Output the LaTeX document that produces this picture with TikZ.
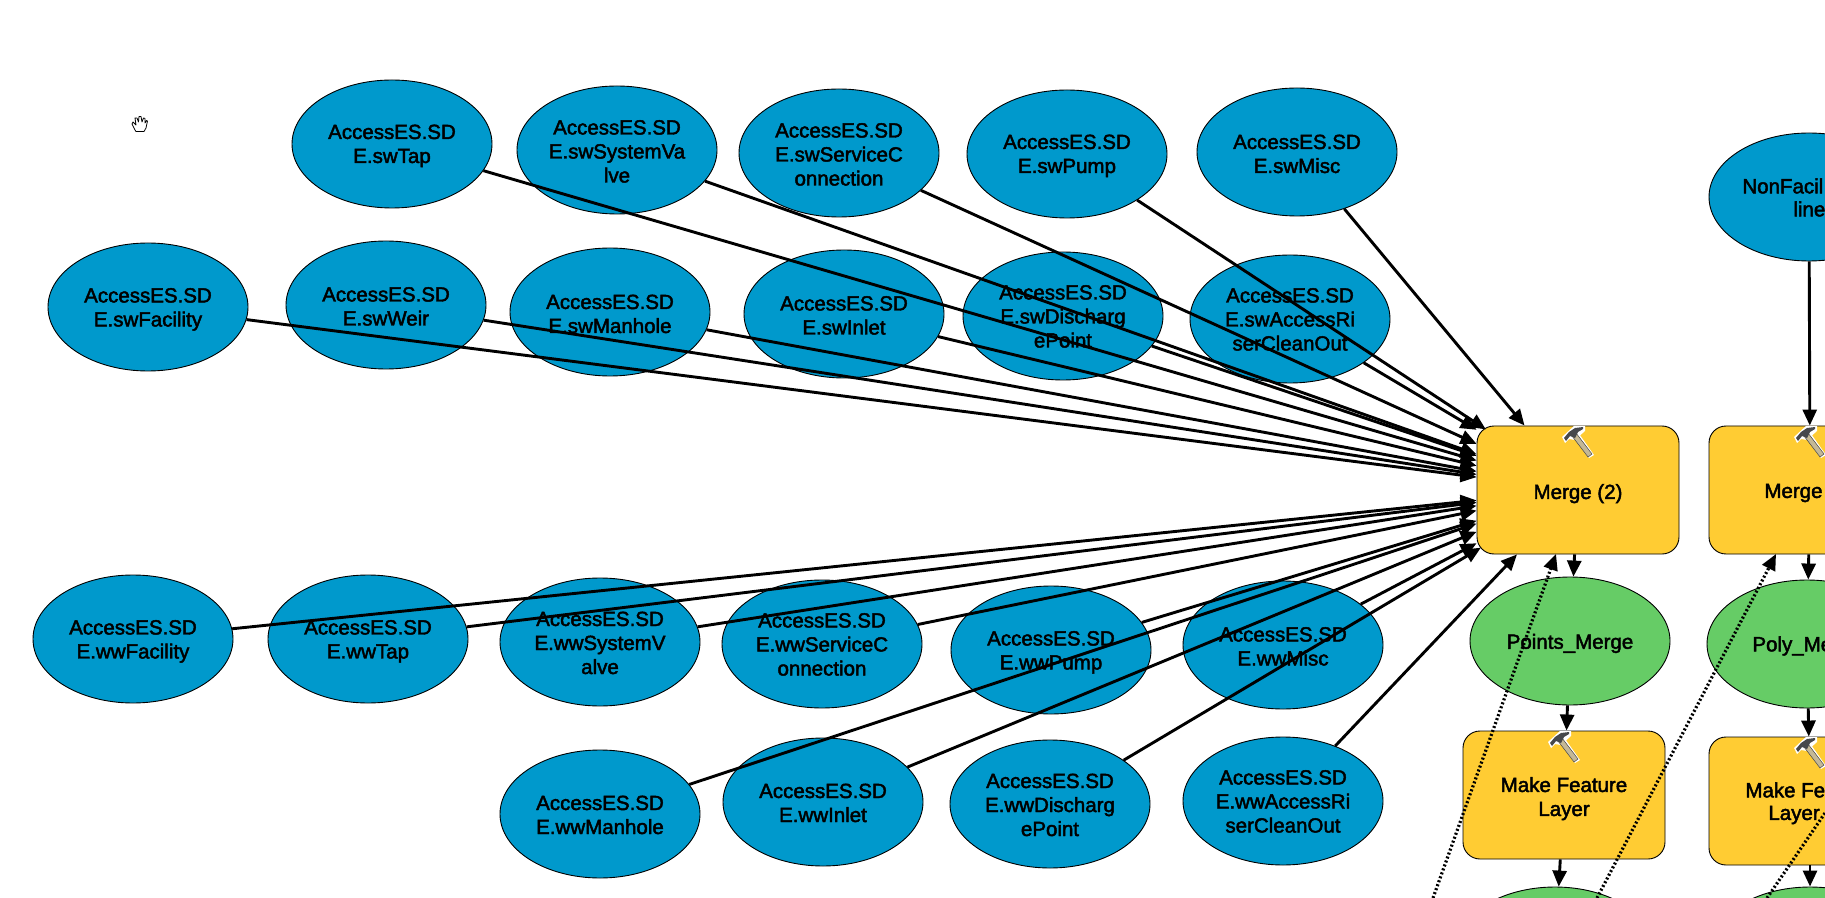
\documentclass[tikz,border=0pt]{standalone}
\usepackage{fontspec}
\usetikzlibrary{shapes.geometric,arrows.meta}
\newfontfamily\difont[FakeBold=2.2]{Liberation Sans}
\newcommand{\nudge}[1]{\rule{0pt}{\dimexpr7.6pt+#1pt\relax}}
\definecolor{srcblue}{RGB}{0,153,204}
\definecolor{toolorange}{RGB}{255,204,51}
\definecolor{outgreen}{RGB}{102,204,102}
\definecolor{handlecol}{RGB}{196,184,150}
\definecolor{headcol}{RGB}{70,72,76}
\tikzset{
  x=0.5pt,y=-0.5pt,
  every node/.style={font=\difont\fontsize{10.25}{12}\selectfont,text=black,align=center,inner sep=0pt},
  oval/.style={ellipse,draw=black,line width=0.45pt,minimum width=100pt,minimum height=64pt},
  srcoval/.style={oval,fill=srcblue},
  outoval/.style={oval,fill=outgreen},
  toolbox/.style={rectangle,rounded corners=8.5pt,draw=black,line width=0.45pt,fill=toolorange,minimum width=101pt,minimum height=64pt},
  flow/.style={draw=black,line width=1.45pt,-{Triangle[length=8pt,width=7pt]}},
  precond/.style={draw=black,line width=1.6pt,dash pattern=on 1pt off 1.1pt,-{Triangle[length=8pt,width=7pt]}},
  cutlabel/.style={anchor=west,align=left},
  pics/hammer/.style={code={
    \fill[white] (-7,-9) -- (-1,-12) -- (16,12) -- (11,15) -- cycle;
    \fill[white] (-16,-6) -- (-4,-17) -- (7,-17) -- (7,-12) -- (-3,-3) -- (-9,-4) -- (-13,0) -- cycle;
    \fill[handlecol,draw=gray!55!black,line width=0.25pt] (-6,-7) -- (-2,-10) -- (14,11) -- (10,14) -- cycle;
    \fill[headcol] (-14,-5) -- (-9,-11) -- (-3,-15) -- (5,-16) -- (5,-14) -- (0,-11) -- (-3,-5) -- (-8,-7) -- (-12,-2) -- cycle;
  }},
}
\begin{document}
\begin{tikzpicture}
\useasboundingbox (0,0) rectangle (1825,898);
\clip (0,0) rectangle (1825,898);
\fill[white] (0,0) rectangle (1825,898);
% hand cursor
\draw[black,line width=0.4pt,fill=white,line join=round]
  (135,130) -- (132,124) -- (133,122) -- (136,125) -- (135,118) -- (137,118) -- (138.5,122)
  -- (139,116.5) -- (141,116.5) -- (142,122) -- (143.5,118) -- (145,118.5) -- (145,123)
  -- (146.5,120.5) -- (147.5,121) -- (146,128) -- (144,131.5) -- (136,131.5) -- cycle;
% sources, first row
\node[srcoval] (swTap) at (392,144) {\nudge{1.5}AccessES.SD\\E.swTap};
\node[srcoval] (swSystemValve) at (617,150) {\nudge{1}AccessES.SD\\E.swSystemVa\\lve};
\node[srcoval] (swServiceConnection) at (839,153) {\nudge{1}AccessES.SD\\E.swServiceC\\onnection};
\node[srcoval] (swPump) at (1067,154) {\nudge{1.5}AccessES.SD\\E.swPump};
\node[srcoval] (swMisc) at (1297,152) {\nudge{1.5}AccessES.SD\\E.swMisc};
% second row
\node[srcoval] (swFacility) at (148,307) {\nudge{2}AccessES.SD\\E.swFacility};
\node[srcoval] (swWeir) at (386,305) {\nudge{1}AccessES.SD\\E.swWeir};
\node[srcoval] (swManhole) at (610,312) {\nudge{1.5}AccessES.SD\\E.swManhole};
\node[srcoval] (swInlet) at (844,314) {\nudge{1}AccessES.SD\\E.swInlet};
\node[srcoval] (swDischargePoint) at (1063,316) {\nudge{0}AccessES.SD\\E.swDischarg\\ePoint};
\node[srcoval] (swAccessRiserCleanOut) at (1290,319) {\nudge{0}AccessES.SD\\E.swAccessRi\\serCleanOut};
% third row
\node[srcoval] (wwFacility) at (133,639) {\nudge{2}AccessES.SD\\E.wwFacility};
\node[srcoval] (wwTap) at (368,639) {\nudge{2}AccessES.SD\\E.wwTap};
\node[srcoval] (wwSystemValve) at (600,642) {\nudge{0.5}AccessES.SD\\E.wwSystemV\\alve};
\node[srcoval] (wwServiceConnection) at (822,644) {\nudge{0}AccessES.SD\\E.wwServiceC\\onnection};
\node[srcoval] (wwPump) at (1051,650) {\nudge{2}AccessES.SD\\E.wwPump};
\node[srcoval] (wwMisc) at (1283,645) {\nudge{1}AccessES.SD\\E.wwMisc};
% fourth row
\node[srcoval] (wwManhole) at (600,814) {\nudge{0.5}AccessES.SD\\E.wwManhole};
\node[srcoval] (wwInlet) at (823,802) {\nudge{0.5}AccessES.SD\\E.wwInlet};
\node[srcoval] (wwDischargePoint) at (1050,804) {\nudge{0.5}AccessES.SD\\E.wwDischarg\\ePoint};
\node[srcoval] (wwAccessRiserCleanOut) at (1283,801) {\nudge{0}AccessES.SD\\E.wwAccessRi\\serCleanOut};
% tools and outputs, left column
\node[toolbox] (merge) at (1578,490) {\nudge{3.5}Merge (2)};
\node[outoval] (pointsMerge) at (1570,641) {\nudge{2.3}Points\_Merge};
\node[toolbox] (makeLayer) at (1564,795) {\nudge{3.5}Make Feature\\Layer};
\node[outoval] (leftOut) at (1555,951) {};
% right column
\node[srcoval] (nonFacil) at (1809,197) {};
\node[cutlabel] (nonFacilA) at (1742,186) {NonFacil};
\node[cutlabel] (nonFacilB) at (1793,209) {line};
\node[toolbox] (mergeR) at (1810,490) {};
\node[cutlabel] (mergeRL) at (1764,493) {Merge};
\node[outoval] (polyMerge) at (1807,644) {};
\node[cutlabel] (polyL) at (1752,646) {Poly\_Me};
\node[toolbox] (makeLayerR) at (1810,801) {};
\node[cutlabel] (makeA) at (1745,790) {Make Fe};
\node[cutlabel] (makeB) at (1768,815) {Layer};
\node[outoval] (rightOut) at (1810,951) {};
% hammers
\pic at (1578,443) {hammer};
\pic at (1810,443) {hammer};
\pic at (1564,748) {hammer};
\pic at (1810,754) {hammer};
% flows
\foreach \s in {swTap,swSystemValve,swServiceConnection,swMisc,
  swFacility,swWeir,swManhole,swInlet,swDischargePoint,swAccessRiserCleanOut,
  wwFacility,wwTap,wwSystemValve,wwServiceConnection,wwPump,wwMisc,
  wwManhole,wwInlet,wwAccessRiserCleanOut}
  \draw[flow] (\s) -- (merge);
\draw[flow,shorten >=-3.5pt] (swPump) -- (merge);
\draw[flow,shorten >=-2.5pt] (wwDischargePoint) -- (merge);
\draw[flow] (merge) -- (pointsMerge);
\draw[flow] (pointsMerge) -- (makeLayer);
\draw[flow] (makeLayer) -- (leftOut);
\draw[flow] (nonFacil) -- (mergeR);
\draw[flow] (mergeR) -- (polyMerge);
\draw[flow] (polyMerge) -- (makeLayerR);
\draw[flow] (makeLayerR) -- (rightOut);
% preconditions
\coordinate (p1) at (1433,898);
\coordinate (p1e) at (1556,554);
\coordinate (p2) at (1597,898);
\coordinate (p2e) at (1776,554);
\coordinate (p3) at (1767,898);
\coordinate (p3e) at (1825,813);
\draw[precond] (p1) -- (p1e);
\draw[precond] (p2) -- (p2e);
\draw[precond,-] (p3) -- (p3e);
\end{tikzpicture}
\end{document}
